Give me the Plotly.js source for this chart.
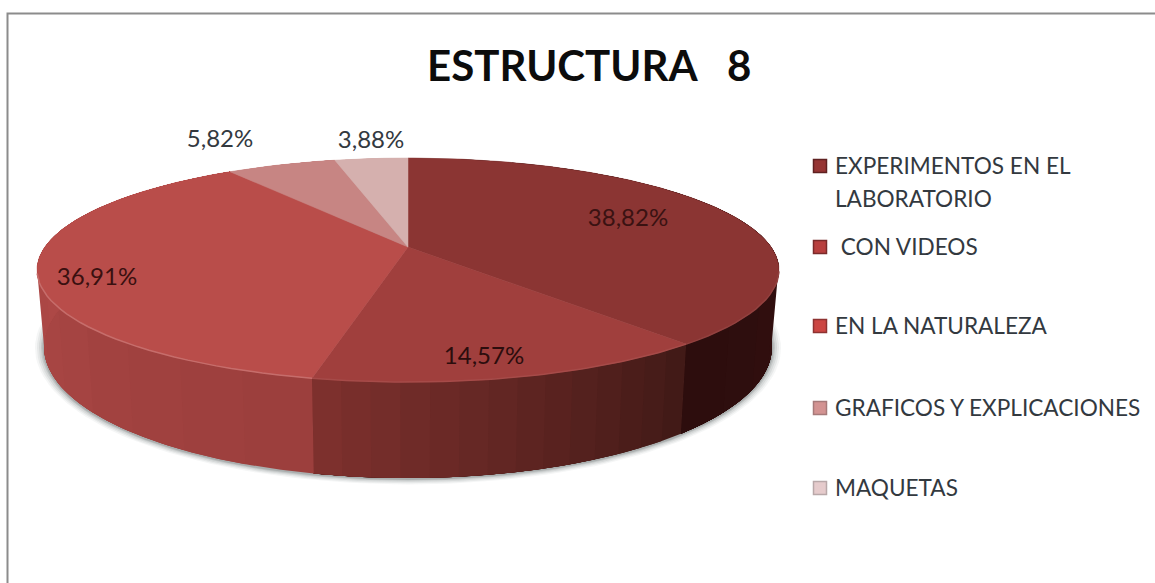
<!DOCTYPE html>
<html><head><meta charset="utf-8">
<script src="https://cdn.plot.ly/plotly-3.0.1.min.js"></script>
<style>html,body{margin:0;padding:0;background:#fff}#chart{width:1155px;height:583px}</style>
</head><body><div id="chart"></div>
<script>
// DATA
var categories = ["EXPERIMENTOS EN EL\nLABORATORIO", "\u00a0CON VIDEOS", "EN LA NATURALEZA", "GRAFICOS Y EXPLICACIONES", "MAQUETAS"];
var shares = [38.82, 14.57, 36.91, 5.82, 3.88];
var shareLabels = ["38,82%", "14,57%", "36,91%", "5,82%", "3,88%"];
var chartTitle = "ESTRUCTURA\u00a0\u00a0\u00a08";

// STYLE
var topColors = ["#8b3533", "#a03f3d", "#b94d4a", "#c78583", "#d5b0ae"];
var wallStops = [["#3f1514", "#2d0d0d"], ["#421a17", "#7d302d"], ["#9c3f3d", "#b84e4c"], ["#c78583", "#c78583"], ["#d5b0ae", "#d5b0ae"]];
var legendColors = ["#963534", "#b83f3e", "#cc4643", "#d39392", "#e6cbcc"];
var legendEdges = ["#5f2121", "#7a2a2a", "#8e3231", "#a67a7a", "#b9a8a9"];
var labelColors = ["#3a1212", "#2c0d0d", "#3a1010", "#33393f", "#33393f"];
var labelX = [628, 484, 97, 220, 371];
var labelY = [220, 358, 279, 141, 142];
var legendY = [166, 247, 326, 408, 488];
var legendLineGap = 33;
var FONT = "Lato, 'Open Sans', sans-serif";

// GEOMETRY of the tilted disc
var cx = 408, topCy = 270, topRx = 371, topRy = 112, persp = -0.205;
var botCy = 347, botRx = 364, botRy = 131;

function proj(theta) {            // disc angle -> unit ellipse (perspective moves the apex)
  var x = Math.sin(theta), y = -Math.cos(theta);
  var d = 1 + persp * y;
  return [x * Math.sqrt(1 - persp * persp) / d, (y + persp) / d];
}
function pt(theta, cy, rx, ry) { var p = proj(theta); return [cx + rx * p[0], cy + ry * p[1]]; }
function hex(c) { return [1, 3, 5].map(function (i) { return parseInt(c.substr(i, 2), 16); }); }
function mix(a, b, t) {
  var A = hex(a), B = hex(b);
  return "rgb(" + A.map(function (v, i) { return Math.round(v + (B[i] - v) * t); }).join(",") + ")";
}

var total = shares.reduce(function (a, b) { return a + b; }, 0);
var traces = [];
function addFill(xs, ys, color, lw) {
  traces.push({ x: xs, y: ys, mode: "lines", fill: "toself", fillcolor: color, line: { width: lw || 0, color: color }, hoverinfo: "skip", showlegend: false });
}

// soft shadow below the disc
[[9, 0.05], [7, 0.07], [5, 0.09], [3, 0.13], [1.5, 0.18]].forEach(function (s) {
  var xs = [], ys = [];
  for (var i = 0; i <= 180; i++) {
    var t = i / 180 * 2 * Math.PI;
    xs.push(cx + (botRx + s[0]) * Math.sin(t));
    ys.push(botCy + (botRy + s[0] * 0.6) * Math.cos(t) + 1);
  }
  addFill(xs, ys, "rgba(60,70,70," + s[1] + ")");
});

var edges = [0];
shares.forEach(function (v, i) { edges.push(edges[i] + v / total * 2 * Math.PI); });

// side wall: each band runs from its start to the end of the slice, the next band paints over it
var BANDS = 14;
shares.forEach(function (v, i) {
  var a0 = edges[i], a1 = edges[i + 1];
  for (var k = 0; k < BANDS; k++) {
    var s0 = a0 + (a1 - a0) * k / BANDS, top = [], bot = [], m = 30;
    for (var j = 0; j <= m; j++) {
      var th = s0 + (a1 - s0) * j / m;
      top.push(pt(th, topCy, topRx, topRy));
      bot.push(pt(th, botCy, botRx, botRy));
    }
    var poly = top.concat(bot.reverse());
    poly.push(poly[0]);
    addFill(poly.map(function (p) { return p[0]; }), poly.map(function (p) { return p[1]; }),
      mix(wallStops[i][0], wallStops[i][1], k / (BANDS - 1)));
  }
});

// top face
shares.forEach(function (v, i) {
  var xs = [cx], ys = [topCy + topRy * persp];
  var n = Math.ceil((edges[i + 1] - edges[i]) * 60);
  for (var k = 0; k <= n; k++) {
    var p = pt(edges[i] + (edges[i + 1] - edges[i]) * k / n, topCy, topRx, topRy);
    xs.push(p[0]); ys.push(p[1]);
  }
  xs.push(cx); ys.push(topCy + topRy * persp);
  addFill(xs, ys, topColors[i], 0.5);
});

// light rim on the front edge of the top face
shares.forEach(function (v, i) {
  var xs = [], ys = [], n = 60;
  for (var k = 0; k <= n; k++) {
    var th = edges[i] + (edges[i + 1] - edges[i]) * k / n;
    if (Math.cos(th) > -0.205) continue;
    var p = pt(th, topCy, topRx, topRy);
    xs.push(p[0]); ys.push(p[1]);
  }
  if (xs.length) traces.push({ x: xs, y: ys, mode: "lines", line: { width: 1.5, color: mix(topColors[i], "#ffffff", i === 2 ? 0.18 : 0.06) }, hoverinfo: "skip", showlegend: false });
});

// value labels
traces.push({ x: labelX, y: labelY, mode: "text", text: shareLabels, textposition: "middle center",
  textfont: { family: FONT, size: 24, color: labelColors }, hoverinfo: "skip", showlegend: false });

// legend keys and texts
traces.push({ x: legendY.map(function () { return 820; }), y: legendY, mode: "markers",
  marker: { symbol: "square", size: 13, color: legendColors, line: { width: 1.5, color: legendEdges } }, hoverinfo: "skip", showlegend: false });
var lx = [], ly = [], lt = [];
categories.forEach(function (c, i) {
  c.split("\n").forEach(function (line, j) { lx.push(835); ly.push(legendY[i] + 2 + j * legendLineGap); lt.push(line); });
});
traces.push({ x: lx, y: ly, mode: "text", text: lt, textposition: "middle right",
  textfont: { family: FONT, size: 22.6, color: "#33393f" }, hoverinfo: "skip", showlegend: false });

var layout = {
  width: 1155, height: 583, margin: { l: 0, r: 0, t: 0, b: 0 },
  paper_bgcolor: "#ffffff", plot_bgcolor: "#ffffff", showlegend: false,
  xaxis: { range: [0, 1155], visible: false, fixedrange: true },
  yaxis: { range: [583, 0], visible: false, fixedrange: true },
  annotations: [{ text: "<b>" + chartTitle + "</b>", xref: "x", yref: "y", x: 589, y: 65, showarrow: false,
    font: { family: FONT, size: 42, color: "#0c0c0c" } }],
  shapes: [{ type: "rect", xref: "x", yref: "y", x0: 7.5, y0: 13.5, x1: 1170, y1: 600, line: { color: "#8c8c8c", width: 2 }, layer: "above" }]
};
Plotly.newPlot("chart", traces, layout, { displayModeBar: false, staticPlot: true });
</script></body></html>
